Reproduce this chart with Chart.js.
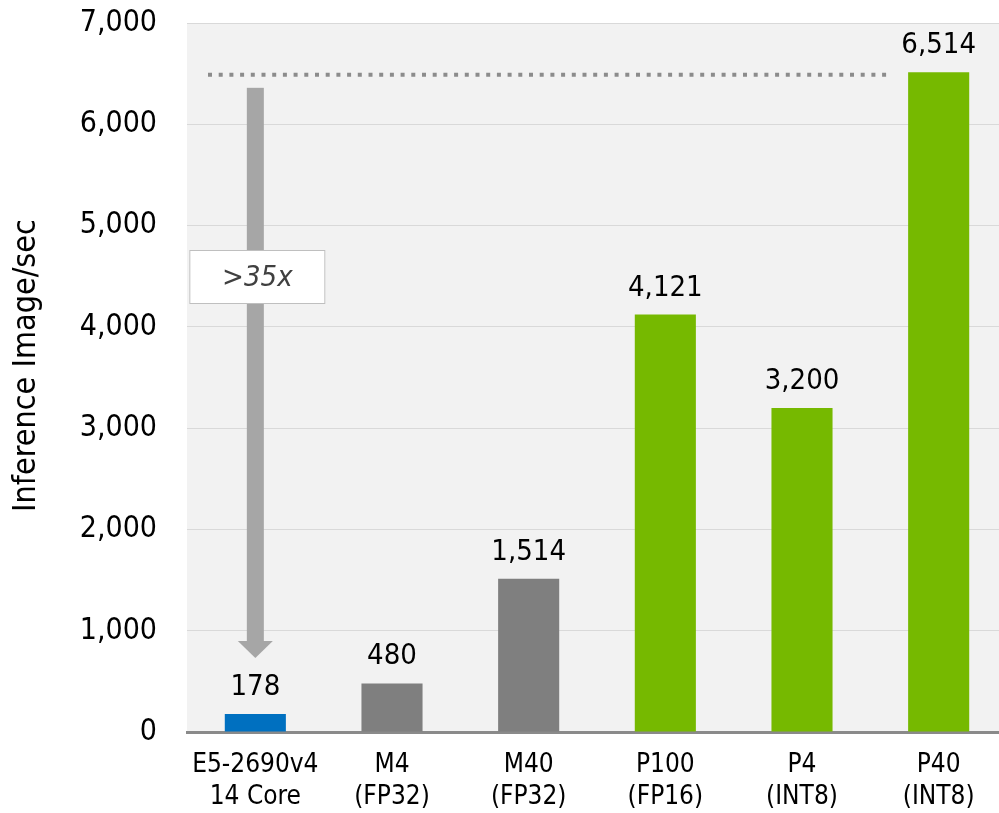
<!DOCTYPE html>
<html>
<head>
<meta charset="utf-8">
<script src="https://cdn.jsdelivr.net/npm/chart.js@4/dist/chart.umd.min.js"></script>
<style>
  html, body { margin: 0; padding: 0; background: #ffffff; overflow: hidden; }
  #wrap { width: 1007px; height: 813px; }
</style>
</head>
<body>
<div id="wrap"><canvas id="c" width="1007" height="813"></canvas></div>
<script>
// Inference throughput per device
const categories = [
  ['E5-2690v4', '14 Core'],
  ['M4', '(FP32)'],
  ['M40', '(FP32)'],
  ['P100', '(FP16)'],
  ['P4', '(INT8)'],
  ['P40', '(INT8)']
];
const imagesPerSec = [178, 480, 1514, 4121, 3200, 6514];
const yTicks = [0, 1000, 2000, 3000, 4000, 5000, 6000, 7000];
const yAxisTitle = 'Inference Image/sec';

// Speed-up callout: reference level line and arrow span (in images/sec)
const referenceLevel = 6514;
const arrowSpan = [6360, 730];
const speedupText = '>35x';

const barColors = ['#0070c0', '#7f7f7f', '#7f7f7f', '#76b900', '#76b900', '#76b900'];
const FONT = '"DejaVu Sans Condensed", "DejaVu Sans", sans-serif';

const fmt = v => v.toLocaleString('en-US');

const plotBackground = {
  id: 'plotBackground',
  beforeDraw(chart) {
    const { ctx, chartArea: a } = chart;
    ctx.save();
    ctx.fillStyle = '#f2f2f2';
    ctx.fillRect(a.left, a.top, a.right - a.left, a.bottom - a.top);
    ctx.restore();
  }
};

// Rotated y-axis title, set slightly above the plot's vertical middle
const axisTitle = {
  id: 'axisTitle',
  afterDraw(chart) {
    const { ctx, chartArea: a } = chart;
    ctx.save();
    ctx.translate(27, (a.top + a.bottom) / 2 - 12);
    ctx.rotate(-Math.PI / 2);
    ctx.font = '32px ' + FONT;
    ctx.fillStyle = '#000000';
    ctx.textAlign = 'center';
    ctx.textBaseline = 'middle';
    ctx.fillText(yAxisTitle, 0, 0);
    ctx.restore();
  }
};

const valueLabels = {
  id: 'valueLabels',
  afterDatasetsDraw(chart) {
    const { ctx } = chart;
    const meta = chart.getDatasetMeta(0);
    ctx.save();
    ctx.font = '29px ' + FONT;
    ctx.fillStyle = '#000000';
    ctx.textAlign = 'center';
    ctx.textBaseline = 'alphabetic';
    meta.data.forEach((bar, i) => {
      ctx.fillText(fmt(imagesPerSec[i]), bar.x, bar.y - 19);
    });
    ctx.restore();
  }
};

const speedupCallout = {
  id: 'speedupCallout',
  afterDatasetsDraw(chart) {
    const { ctx, scales: { x, y } } = chart;
    const meta = chart.getDatasetMeta(0);
    const firstBar = meta.data[0];
    const lastBar = meta.data[meta.data.length - 1];
    ctx.save();

    // dotted level line
    const ly = y.getPixelForValue(referenceLevel) + 2.5;
    ctx.strokeStyle = '#8c8c8c';
    ctx.lineWidth = 4;
    ctx.setLineDash([4, 6.7]);
    ctx.beginPath();
    ctx.moveTo(x.left + 21, ly);
    ctx.lineTo(lastBar.x - 51, ly);
    ctx.stroke();
    ctx.setLineDash([]);

    // downward arrow
    const ax = firstBar.x;
    const top = y.getPixelForValue(arrowSpan[0]);
    const tip = y.getPixelForValue(arrowSpan[1]);
    const headH = 17;
    ctx.fillStyle = '#a6a6a6';
    ctx.fillRect(ax - 8.5, top, 17, tip - headH - top);
    ctx.beginPath();
    ctx.moveTo(ax - 17.5, tip - headH);
    ctx.lineTo(ax + 17.5, tip - headH);
    ctx.lineTo(ax, tip);
    ctx.closePath();
    ctx.fill();

    // speed-up box
    const bw = 136, bh = 54;
    const bx = ax - 66, by = 250;
    ctx.fillStyle = '#ffffff';
    ctx.fillRect(bx, by, bw, bh);
    ctx.strokeStyle = '#bfbfbf';
    ctx.lineWidth = 1;
    ctx.strokeRect(bx + 0.5, by + 0.5, bw - 1, bh - 1);
    ctx.fillStyle = '#404040';
    ctx.font = 'italic 29px ' + FONT;
    ctx.textAlign = 'center';
    ctx.textBaseline = 'middle';
    ctx.fillText(speedupText, bx + bw / 2, by + bh / 2 + 1);
    ctx.restore();
  }
};

new Chart(document.getElementById('c'), {
  type: 'bar',
  data: {
    labels: categories,
    datasets: [{
      data: imagesPerSec,
      backgroundColor: barColors,
      barPercentage: 0.447,
      categoryPercentage: 1.0
    }]
  },
  options: {
    responsive: false,
    animation: false,
    layout: { padding: { top: 23, right: 0, left: 0, bottom: 0 } },
    plugins: {
      legend: { display: false },
      tooltip: { enabled: false }
    },
    scales: {
      x: {
        grid: { display: false, drawTicks: false },
        border: { display: true, color: '#8a8a8a', width: 3 },
        ticks: {
          color: '#000000',
          padding: 17,
          font: { family: FONT, size: 26, lineHeight: 1.23 },
          maxRotation: 0,
          autoSkip: false
        },
        afterFit(scale) {
          scale.height = 81;
          scale.paddingLeft = 0;
          scale.paddingRight = 0;
        }
      },
      y: {
        min: 0,
        max: 7000,
        afterBuildTicks(scale) { scale.ticks = yTicks.map(v => ({ value: v })); },
        grid: { color: '#d9d9d9', lineWidth: 1, drawTicks: false },
        border: { display: false },
        ticks: {
          color: '#000000',
          padding: 30,
          font: { family: FONT, size: 30 },
          callback: v => fmt(v)
        },
        title: { display: false },
        afterFit(scale) {
          scale.width = 187;
          scale.paddingTop = 0;
          scale.paddingBottom = 0;
        }
      }
    }
  },
  plugins: [plotBackground, valueLabels, speedupCallout, axisTitle]
});
</script>
</body>
</html>
